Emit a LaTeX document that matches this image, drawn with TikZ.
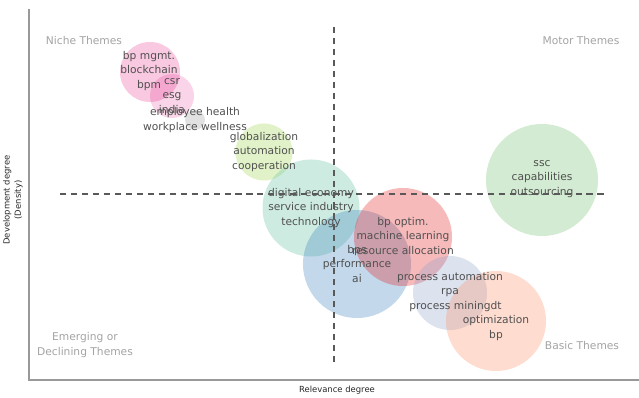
\documentclass[tikz,border=0pt]{standalone}
\usepackage{fontspec}
\setmainfont{DejaVu Sans}
\usepackage{tikz}

\definecolor{pinkc}{HTML}{E7298A}
\definecolor{greyc}{HTML}{B3B3B3}
\definecolor{limec}{HTML}{A6D854}
\definecolor{tealc}{HTML}{66C2A5}
\definecolor{bluec}{HTML}{377EB8}
\definecolor{redc}{HTML}{E41A1C}
\definecolor{lavc}{HTML}{8DA0CB}
\definecolor{orangec}{HTML}{FC8D62}
\definecolor{greenc}{HTML}{4DAF4A}
\definecolor{labelc}{HTML}{505050}
\definecolor{quadc}{HTML}{A3A3A3}

\begin{document}
\begin{tikzpicture}[x=0.025cm,y=-0.025cm]
		 \tikzstyle{bubble}=[circle,inner sep=0pt,fill opacity=0.32]
		 \tikzstyle{cluster}=[align=center,text=labelc,inner sep=0pt,font=\fontsize{7.6}{10.3}\selectfont]
		 \tikzstyle{quadrant}=[align=center,text=quadc,inner sep=0pt,font=\fontsize{7.6}{10.3}\selectfont]
		 \tikzstyle{axislabel}=[align=center,text=black!85,inner sep=0pt,font=\fontsize{6}{8}\selectfont]
		 \tikzstyle{guide}=[black!65,line width=0.9pt,dash pattern=on 4.3pt off 3.5pt]

		  \useasboundingbox (0,0) rectangle (639,398);

		  % bubbles
		  \node[bubble,fill=pinkc,fill opacity=0.26,minimum size=1.5cm] (bpmgmt) at (150,72) {};
		  \node[bubble,fill=pinkc,fill opacity=0.2,minimum size=1.1cm]  (csr) at (172,96) {};
		  \node[bubble,fill=greyc,fill opacity=0.4,minimum size=0.5cm]  (health) at (195,120) {};
		  \node[bubble,fill=limec,minimum size=1.425cm]   (glob)    at (264,152) {};
		  \node[bubble,fill=tealc,minimum size=2.425cm]   (digital) at (311,208) {};
		  \node[bubble,fill=bluec,fill opacity=0.3,minimum size=2.7cm]  (bps) at (357,264) {};
		  \node[bubble,fill=redc,fill opacity=0.3,minimum size=2.45cm] (optim) at (403,237) {};
		  \node[bubble,fill=lavc,fill opacity=0.3,minimum size=1.85cm] (process) at (450,293) {};
		  \node[bubble,fill=orangec,fill opacity=0.3,minimum size=2.5cm] (dt) at (496,321) {};
		  \node[bubble,fill=greenc,fill opacity=0.25,minimum size=2.8cm] (ssc) at (542,180) {};

		  % cluster labels
		  \node[cluster] (bpmgmt-l)  at (149,71)  {bp mgmt.\\blockchain\\bpm\hspace{9pt}};
		  \node[cluster] (csr-l)     at (csr)     {csr\\esg\\india};
		  \node[cluster] (health-l)  at (health)  {employee health\\workplace wellness};
		  \node[cluster] (glob-l)    at (glob)    {globalization\\automation\\cooperation};
		  \node[cluster] (digital-l) at (digital) {digital economy\\service industry\\technology};
		  \node[cluster] (optim-l)   at (403,236) {bp optim.\\machine learning\\resource allocation};
		  \node[cluster] (bps-l)     at (357,264) {bps\\performance\\ai};
		  \node[cluster] (process-l) at (450,292) {process automation\\rpa\\process mining};
		  \node[cluster] (dt-l)      at (496,321) {dt\\optimization\\bp};
		  \node[cluster] (ssc-l)     at (542,179) {ssc\\capabilities\\outsourcing};

		  % quadrants
		  \node[quadrant] (niche)    at (84,41)   {Niche Themes};
		  \node[quadrant] (motor)    at (581,41)  {Motor Themes};
		  \node[quadrant] (emerging) at (85,345)  {Emerging or\\Declining Themes};
		  \node[quadrant] (basic)    at (582,346) {Basic Themes};

		  % axes
		  \coordinate (top)    at (29,9);
		  \coordinate (origin) at (29,380);
		  \coordinate (right)  at (639,380);
		  \draw[black!40,line width=0.8pt] (top) -- (origin) -- (right);
		  \node[axislabel] (xlab) at (337,390) {Relevance degree};
		  \node[axislabel,rotate=90] (ylab) at (13,200) {Development degree\\(Density)};

		  % median lines
		  \coordinate (hl) at (60,194);
		  \coordinate (hr) at (605,194);
		  \coordinate (vt) at (334,27);
		  \coordinate (vb) at (334,362);
		  \draw[guide] (hl) -- (hr);
		  \draw[guide] (vt) -- (vb);

		\end{tikzpicture}
\end{document}
